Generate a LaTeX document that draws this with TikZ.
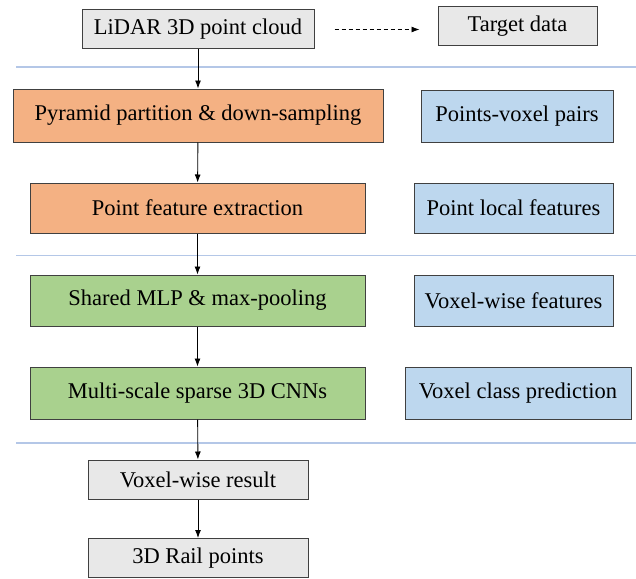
\documentclass[tikz,border=0pt]{standalone}
\usepackage{fontspec}
\setmainfont{Liberation Serif}
\usepackage{xcolor}
\usepackage{tikz}
\usetikzlibrary{arrows.meta}
\definecolor{boxgray}{HTML}{E8E8E8}
\definecolor{boxorange}{HTML}{F4B183}
\definecolor{boxgreen}{HTML}{A9D18E}
\definecolor{boxblue}{HTML}{BDD7EE}
\definecolor{sepblue}{HTML}{B4C7E7}
\tikzstyle{block} = [
    rectangle,
    draw=black!75,
    line width=1pt,
    inner sep=0pt,
    font=\fontsize{22.5}{27}\selectfont
    ]
\tikzstyle{graybox} = [block, fill=boxgray]
\tikzstyle{orangebox} = [block, fill=boxorange]
\tikzstyle{greenbox} = [block, fill=boxgreen]
\tikzstyle{bluebox} = [block, fill=boxblue]
\tikzstyle{sep} = [sepblue, line width=1.4pt]
\tikzstyle{flow} = [-{Latex[length=8pt,width=6pt]}, line width=0.9pt]

\begin{document}
\begin{tikzpicture}[x=1pt, y=-1pt]
        \useasboundingbox (0,0) rectangle (636,578);

        \node (lidar) [graybox, minimum width=232pt, minimum height=39pt] at (198,29.5) {LiDAR 3D point cloud};
        \node (target) [graybox, minimum width=159pt, minimum height=39pt] at (517.5,26.5) {Target data};

        \node (pyramid) [orangebox, minimum width=370pt, minimum height=53pt] at (198,115.5) {Pyramid partition \& down-sampling};
        \node (pairs) [bluebox, minimum width=192pt, minimum height=52pt] at (517,116) {Points-voxel pairs};

        \node (extract) [orangebox, minimum width=335pt, minimum height=50pt] at (197.5,208) {Point feature extraction};
        \node (local) [bluebox, minimum width=199pt, minimum height=50pt] at (513.5,208) {Point local features};

        \node (mlp) [greenbox, minimum width=335pt, minimum height=51pt] at (197.5,300.5) {Shared MLP \& max-pooling};
        \node (voxfeat) [bluebox, minimum width=199pt, minimum height=51pt] at (513.5,300.5) {Voxel-wise features};

        \node (cnn) [greenbox, minimum width=335pt, minimum height=52pt] at (197.5,393) {Multi-scale sparse 3D CNNs};
        \node (classpred) [bluebox, minimum width=226pt, minimum height=52pt] at (518,393) {Voxel class prediction};

        \node (result) [graybox, minimum width=220pt, minimum height=39pt] at (198,479.5) {Voxel-wise result};
        \node (rail) [graybox, minimum width=220pt, minimum height=39pt] at (198,558) {3D Rail points};

        % Separators
        \coordinate (s1a) at (16,67);  \coordinate (s1b) at (636,67);
        \coordinate (s2a) at (16,255); \coordinate (s2b) at (636,255);
        \coordinate (s3a) at (16,443); \coordinate (s3b) at (636,443);
        \draw[sep] (s1a) -- (s1b);
        \draw[sep, line width=1pt] (s2a) -- (s2b);
        \draw[sep] (s3a) -- (s3b);

        % Lines
        \draw[flow, dash pattern=on 4pt off 3pt] ([xshift=20pt]lidar.east) -- ([xshift=-18pt]target.west |- lidar.east);
        \draw[flow] (lidar) -- (pyramid);
        \draw[flow] (pyramid) -- (extract);
        \draw[flow] (extract) -- (mlp);
        \draw[flow] (mlp) -- (cnn);
        \draw[flow] (cnn) -- (result);
        \draw[flow] (result) -- (rail);

    \end{tikzpicture}
\end{document}
